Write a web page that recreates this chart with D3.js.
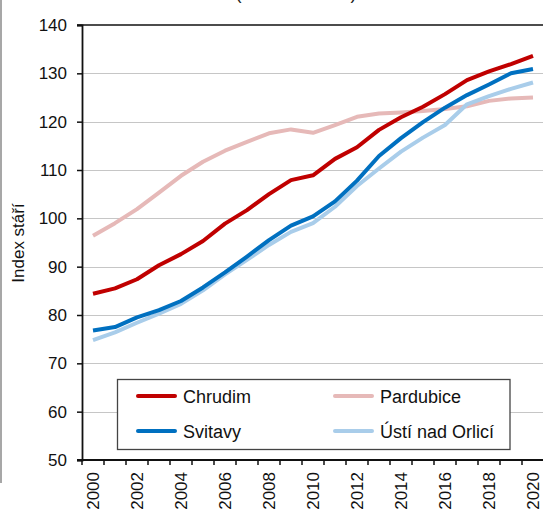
<!DOCTYPE html>
<html><head><meta charset="utf-8">
<script src="https://cdn.jsdelivr.net/npm/d3@7"></script>
<style>body{margin:0;background:#fff}svg{display:block;font-family:"Liberation Sans",Arial,sans-serif}</style>
</head><body><svg id="c" width="543" height="511"></svg>
<script>
const years = d3.range(2000, 2021);
const yearLabels = [2000,2002,2004,2006,2008,2010,2012,2014,2016,2018,2020];
const yTicks = [50,60,70,80,90,100,110,120,130,140];
const seriesNames = ["Chrudim","Pardubice","Svitavy","Ústí nad Orlicí"];
const seriesColors = ["#C00000","#E6B9B8","#0070C0","#A9CDEA"];
const chrudim   = [84.4,85.5,87.4,90.3,92.6,95.3,98.9,101.7,105.0,107.9,108.9,112.3,114.7,118.3,120.9,123.1,125.7,128.6,130.4,131.9,133.6];
const pardubice = [96.4,99.0,101.9,105.3,108.8,111.7,114.0,115.8,117.6,118.4,117.7,119.3,121.0,121.7,121.9,122.2,122.6,123.2,124.3,124.8,125.0];
const svitavy   = [76.8,77.5,79.5,81.0,82.9,85.7,88.8,92.1,95.5,98.5,100.4,103.5,107.8,112.9,116.6,119.9,122.9,125.5,127.7,130.0,130.9];
const usti      = [74.8,76.4,78.4,80.3,82.3,85.1,88.4,91.4,94.5,97.2,99.0,102.4,106.7,110.3,113.8,116.7,119.3,123.6,125.3,126.8,128.1];
const seriesData = [chrudim, pardubice, svitavy, usti];
const titleText = "(2000 až 2020)";
const yTitle = "Index stáří";

const svg = d3.select("#c");
const L = 82, R = 544, T = 25, B = 460;
const x = d3.scaleBand().domain(years).range([L, R]).padding(0);
const y = d3.scaleLinear().domain([50, 140]).range([B, T]);

// left frame line
svg.append("line").attr("x1",1).attr("x2",1).attr("y1",0).attr("y2",483).attr("stroke","#8a8a8a").attr("stroke-width",1.5);

// title (mostly cut off, as in the reference)
svg.append("text").attr("x",296).attr("y",-1).attr("text-anchor","middle").attr("font-size",18).attr("fill","#222").text(titleText);

// gridlines
svg.append("g").selectAll("line").data(yTicks.filter(d=>d>50 && d<140)).join("line")
  .attr("x1",L).attr("x2",543).attr("y1",d=>Math.round(y(d))+0.5).attr("y2",d=>Math.round(y(d))+0.5)
  .attr("stroke","#c6c6c6").attr("stroke-width",1.2);
// top border
svg.append("line").attr("x1",77).attr("x2",543).attr("y1",T).attr("y2",T).attr("stroke","#111").attr("stroke-width",1.5);

// y axis
const ya = svg.append("g").attr("transform",`translate(${L},0)`)
  .call(d3.axisLeft(y).tickValues(yTicks).tickSize(5).tickPadding(10).tickFormat(d3.format("d")));
ya.select(".domain").attr("stroke","#111").attr("stroke-width",1.8);
ya.selectAll(".tick line").attr("stroke","#111").attr("stroke-width",1.5);
ya.selectAll("text").attr("font-size",17).attr("fill","#111").attr("font-family","Liberation Sans, Arial, sans-serif");

// x axis
const xa = svg.append("g").attr("transform",`translate(0,${B})`);
xa.append("line").attr("x1",L-5).attr("x2",543).attr("y1",0).attr("y2",0).attr("stroke","#111").attr("stroke-width",1.8);
const bounds = years.map(d=>x(d)).concat([R]);
xa.selectAll("line.tk").data(bounds).join("line").attr("class","tk")
  .attr("x1",d=>d).attr("x2",d=>d).attr("y1",0).attr("y2",5).attr("stroke","#111").attr("stroke-width",1.5);
xa.selectAll("text").data(yearLabels).join("text")
  .attr("transform",d=>`translate(${x(d)+x.bandwidth()/2+6},12) rotate(-90)`)
  .attr("text-anchor","end").attr("font-size",17).attr("fill","#111").text(d=>d);

// y title
svg.append("text").attr("transform","translate(24,243) rotate(-90)").attr("text-anchor","middle")
  .attr("font-size",17).attr("fill","#111").text(yTitle);

// lines
const line = d3.line().x((d,i)=>x(years[i])+x.bandwidth()/2).y(d=>y(d));
const order = [1,3,2,0];
svg.append("g").selectAll("path").data(order).join("path")
  .attr("d",i=>line(seriesData[i])).attr("fill","none")
  .attr("stroke",i=>seriesColors[i]).attr("stroke-width",4).attr("stroke-linejoin","round");

// legend
const lg = svg.append("g");
lg.append("rect").attr("x",117.5).attr("y",379.5).attr("width",392.5).attr("height",70)
  .attr("fill","#fff").attr("stroke","#444").attr("stroke-width",1.3);
const pos = [[138,396],[335,396],[138,431],[335,431]];
seriesNames.forEach((n,i)=>{
  const [px,py]=pos[i];
  lg.append("line").attr("x1",px).attr("x2",px+37).attr("y1",py).attr("y2",py)
    .attr("stroke",seriesColors[i]).attr("stroke-width",4).attr("stroke-linecap","round");
  lg.append("text").attr("x",px+45).attr("y",py+6.5).attr("font-size",18).attr("fill","#111").text(n);
});
</script></body></html>
